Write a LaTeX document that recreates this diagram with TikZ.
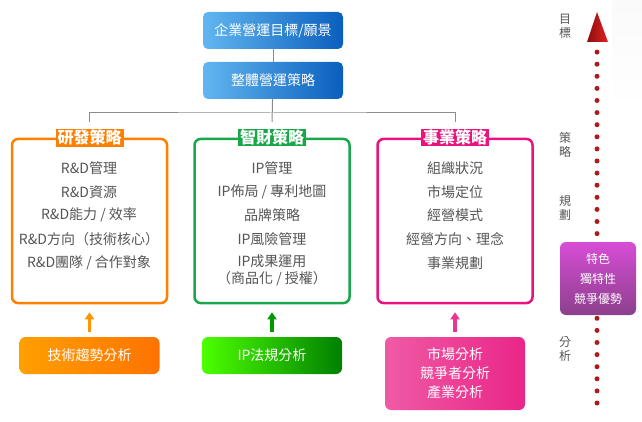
\documentclass[tikz,border=0pt]{standalone}
\usepackage{fontspec}
\newfontfamily\cjk{Noto Sans CJK TC}
\usetikzlibrary{arrows.meta}

\definecolor{bluedark}{HTML}{0A5FBE}
\definecolor{bluelight}{HTML}{62B6F0}
\definecolor{rdorange}{HTML}{FF7F00}
\definecolor{ipgreen}{HTML}{1AA64A}
\definecolor{bizpink}{HTML}{E8137E}
\definecolor{itemgray}{HTML}{555555}
\definecolor{linegray}{HTML}{8C8C8C}
\definecolor{dotred}{HTML}{B01A1A}
\definecolor{tipred}{HTML}{E02222}
\definecolor{tipdark}{HTML}{8C0E0E}

\begin{document}
\begin{tikzpicture}[x=1pt, y=-1pt,
  every node/.style={font=\cjk},
  goalbox/.style={rounded corners=5pt, minimum width=140pt, minimum height=37pt,
    text=white, left color=bluelight, right color=bluedark,
    font={\cjk\fontsize{14}{16}\selectfont}},
  frame/.style={draw=#1, line width=2.5pt, rounded corners=6pt, fill=white,
    minimum width=155pt, minimum height=164pt},
  headline/.style={fill=#1, text=white, inner xsep=2pt, inner ysep=1pt,
    font={\cjk\bfseries\fontsize{16}{18}\selectfont}},
  entry/.style={text=itemgray, align=center, font={\cjk\fontsize{14}{16.5}\selectfont}},
  basebox/.style={rounded corners=6pt, minimum width=140pt, minimum height=37pt,
    text=white, align=center, font={\cjk\fontsize{14}{19}\selectfont}},
  uparrow/.style={draw=#1, line width=3.5pt, -{Triangle[length=7pt,width=9pt]},
    shorten <=5pt, shorten >=8pt},
  connector/.style={draw=linegray, line width=1pt},
  sidelabel/.style={text=itemgray, align=center, font={\cjk\fontsize{12}{14}\selectfont}},
  dotline/.style={draw=dotred, line width=5pt, line cap=round, dash pattern=on 0pt off 12.1pt}]

  \useasboundingbox (0,0) rectangle (642,422);
  \fill[top color=gray!4, bottom color=white] (612,0) rectangle (642,110);

  % goals
  \node[goalbox] (goal) at (273,30.5) {企業營運目標/願景};
  \node[goalbox] (plan) at (273,80.5) {整體營運策略};

  \coordinate (bar) at (272,113);
  \coordinate (rdend) at (89,122);
  \coordinate (ipend) at (272,122);
  \coordinate (bizend) at (455,122);
  \draw[connector] (goal) -- (plan);
  \draw[connector] (plan) -- (ipend);
  \draw[connector] (rdend) |- (bar) -| (bizend);

  % strategy frames
  \node[frame=rdorange] (rdframe) at (89.5,221) {};
  \node[frame=ipgreen] (ipframe) at (272,221) {};
  \node[frame=bizpink] (bizframe) at (455,221) {};

  \node[headline=rdorange] (rdhead) at (rdframe.north) {研發策略};
  \node[headline=ipgreen] (iphead) at (ipframe.north) {智財策略};
  \node[headline=bizpink] (bizhead) at (bizframe.north) {事業策略};

  \node[entry] (rd1) at (89,168) {R\&D管理};
  \node[entry] (rd2) at (89,192) {R\&D資源};
  \node[entry] (rd3) at (89,215) {R\&D能力 / 效率};
  \node[entry] (rd4) at (89,239) {R\&D方向（技術核心）};
  \node[entry] (rd5) at (89,263) {R\&D團隊 / 合作對象};

  \node[entry] (ip1) at (272,168) {IP管理};
  \node[entry] (ip2) at (272,192) {IP佈局 / 專利地圖};
  \node[entry] (ip3) at (272,215) {品牌策略};
  \node[entry] (ip4) at (272,239) {IP風險管理};
  \node[entry] (ip5) at (272,270.5) {IP成果運用\\（商品化 / 授權）};

  \node[entry] (biz1) at (455,168) {組織狀況};
  \node[entry] (biz2) at (455,192) {市場定位};
  \node[entry] (biz3) at (455,215) {經營模式};
  \node[entry] (biz4) at (455,239) {經營方向、理念};
  \node[entry] (biz5) at (455,263) {事業規劃};

  % analysis
  \node[basebox, left color=orange!75!yellow, right color=orange!90!red] (rdbase) at (89.5,355.5) {技術趨勢分析};
  \node[basebox, left color=green!70!yellow, right color=green!50!black] (ipbase) at (272,355.5) {IP法規分析};
  \node[basebox, minimum height=73pt, left color=bizpink!70, right color=bizpink!92] (bizbase) at (455,373.5) {市場分析\\競爭者分析\\產業分析};

  \draw[uparrow=orange!85!yellow] (rdbase) -- (rdframe);
  \draw[uparrow=green!60!black] (ipbase) -- (ipframe);
  \draw[uparrow=bizpink!85] (bizbase) -- (bizframe);

  % axis
  \coordinate (axtop) at (597,52);
  \coordinate (axbot) at (597,403);
  \draw[dotline] (axbot) -- (axtop);
  \shade[left color=tipdark, right color=tipred] (587,42) -- (597,12) -- (608,42) -- cycle;

  \node[rounded corners=6pt, minimum width=76pt, minimum height=73pt, text=white,
    align=center, font={\cjk\fontsize{12}{20}\selectfont},
    top color=violet!45!magenta!70, bottom color=violet!80!black!75] (edge) at (598,278.5) {特色\\獨特性\\競爭優勢};

  \node[sidelabel] (lgoal) at (565,26) {目\\標};
  \node[sidelabel] (lstrat) at (565,145) {策\\略};
  \node[sidelabel] (lplan) at (565,208) {規\\劃};
  \node[sidelabel] (lanal) at (565,349) {分\\析};
\end{tikzpicture}
\end{document}
